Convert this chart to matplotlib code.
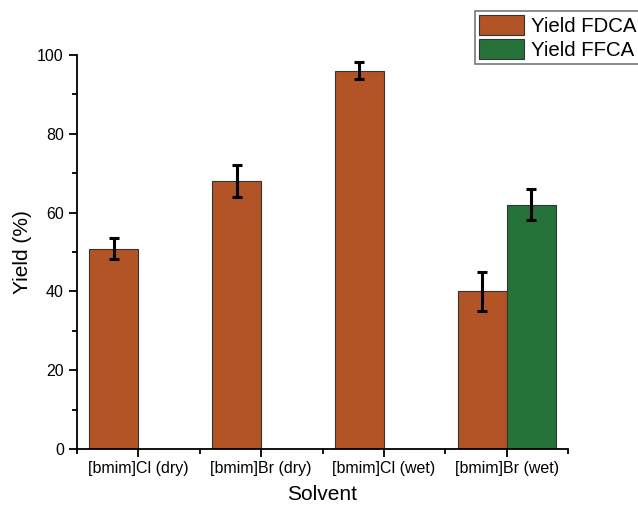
import matplotlib.pyplot as plt
import numpy as np
from matplotlib.ticker import MultipleLocator, FixedLocator

plt.rcParams['font.family'] = ['Liberation Sans', 'DejaVu Sans']

solvents = ['[bmim]Cl (dry)', '[bmim]Br (dry)', '[bmim]Cl (wet)', '[bmim]Br (wet)']
fdca = [50.8, 68.0, 96.0, 40.0]
fdca_err = [2.7, 4.0, 2.1, 5.0]
ffca_idx = [3]
ffca = [62.0]
ffca_err = [4.0]

c_fdca = '#B35427'
c_ffca = '#267339'

fig = plt.figure(figsize=(6.38, 5.07), dpi=100)
ax = fig.add_axes([77/638, 1-449/507, (568-77)/638, (449-55)/507])

x = np.arange(len(solvents))
w = 0.4
ekw = dict(elinewidth=2.2, capsize=3.8, capthick=2.2, ecolor='black')
ax.bar(x - w/2, fdca, w, yerr=fdca_err, color=c_fdca, edgecolor='#333333',
       linewidth=0.8, error_kw=ekw, label='Yield FDCA')
ax.bar(np.array(ffca_idx) + w/2, ffca, w, yerr=ffca_err, color=c_ffca,
       edgecolor='#333333', linewidth=0.8, error_kw=ekw, label='Yield FFCA')

ax.set_xlim(-0.5, 3.5)
ax.set_ylim(0, 100)
ax.spines['top'].set_visible(False)
ax.spines['right'].set_visible(False)
for s in ['left', 'bottom']:
    ax.spines[s].set_linewidth(1.3)

ax.set_xticks(x)
ax.set_xticklabels(solvents, fontsize=11.5)
ax.xaxis.set_minor_locator(FixedLocator(np.arange(-0.5, 4, 1)))
ax.yaxis.set_major_locator(MultipleLocator(20))
ax.yaxis.set_minor_locator(MultipleLocator(10))
ax.tick_params(which='major', direction='out', length=6, width=1.3, labelsize=11.5)
ax.tick_params(which='minor', direction='out', length=3.5, width=1.3)
ax.tick_params(axis='x', which='major', pad=3)

ax.set_xlabel('Solvent', fontsize=15, labelpad=6)
ax.set_ylabel('Yield (%)', fontsize=15, labelpad=4)

leg = fig.legend(loc='upper left', bbox_to_anchor=(475/638, 1-11/507), fontsize=14.7,
                 frameon=True, fancybox=False, edgecolor='#777777', framealpha=1,
                 handlelength=2.2, handleheight=1.15, handletextpad=0.35,
                 borderpad=0.2, borderaxespad=0, labelspacing=0.15)
leg.get_frame().set_linewidth(1.2)

plt.savefig('out.png', dpi=100)
